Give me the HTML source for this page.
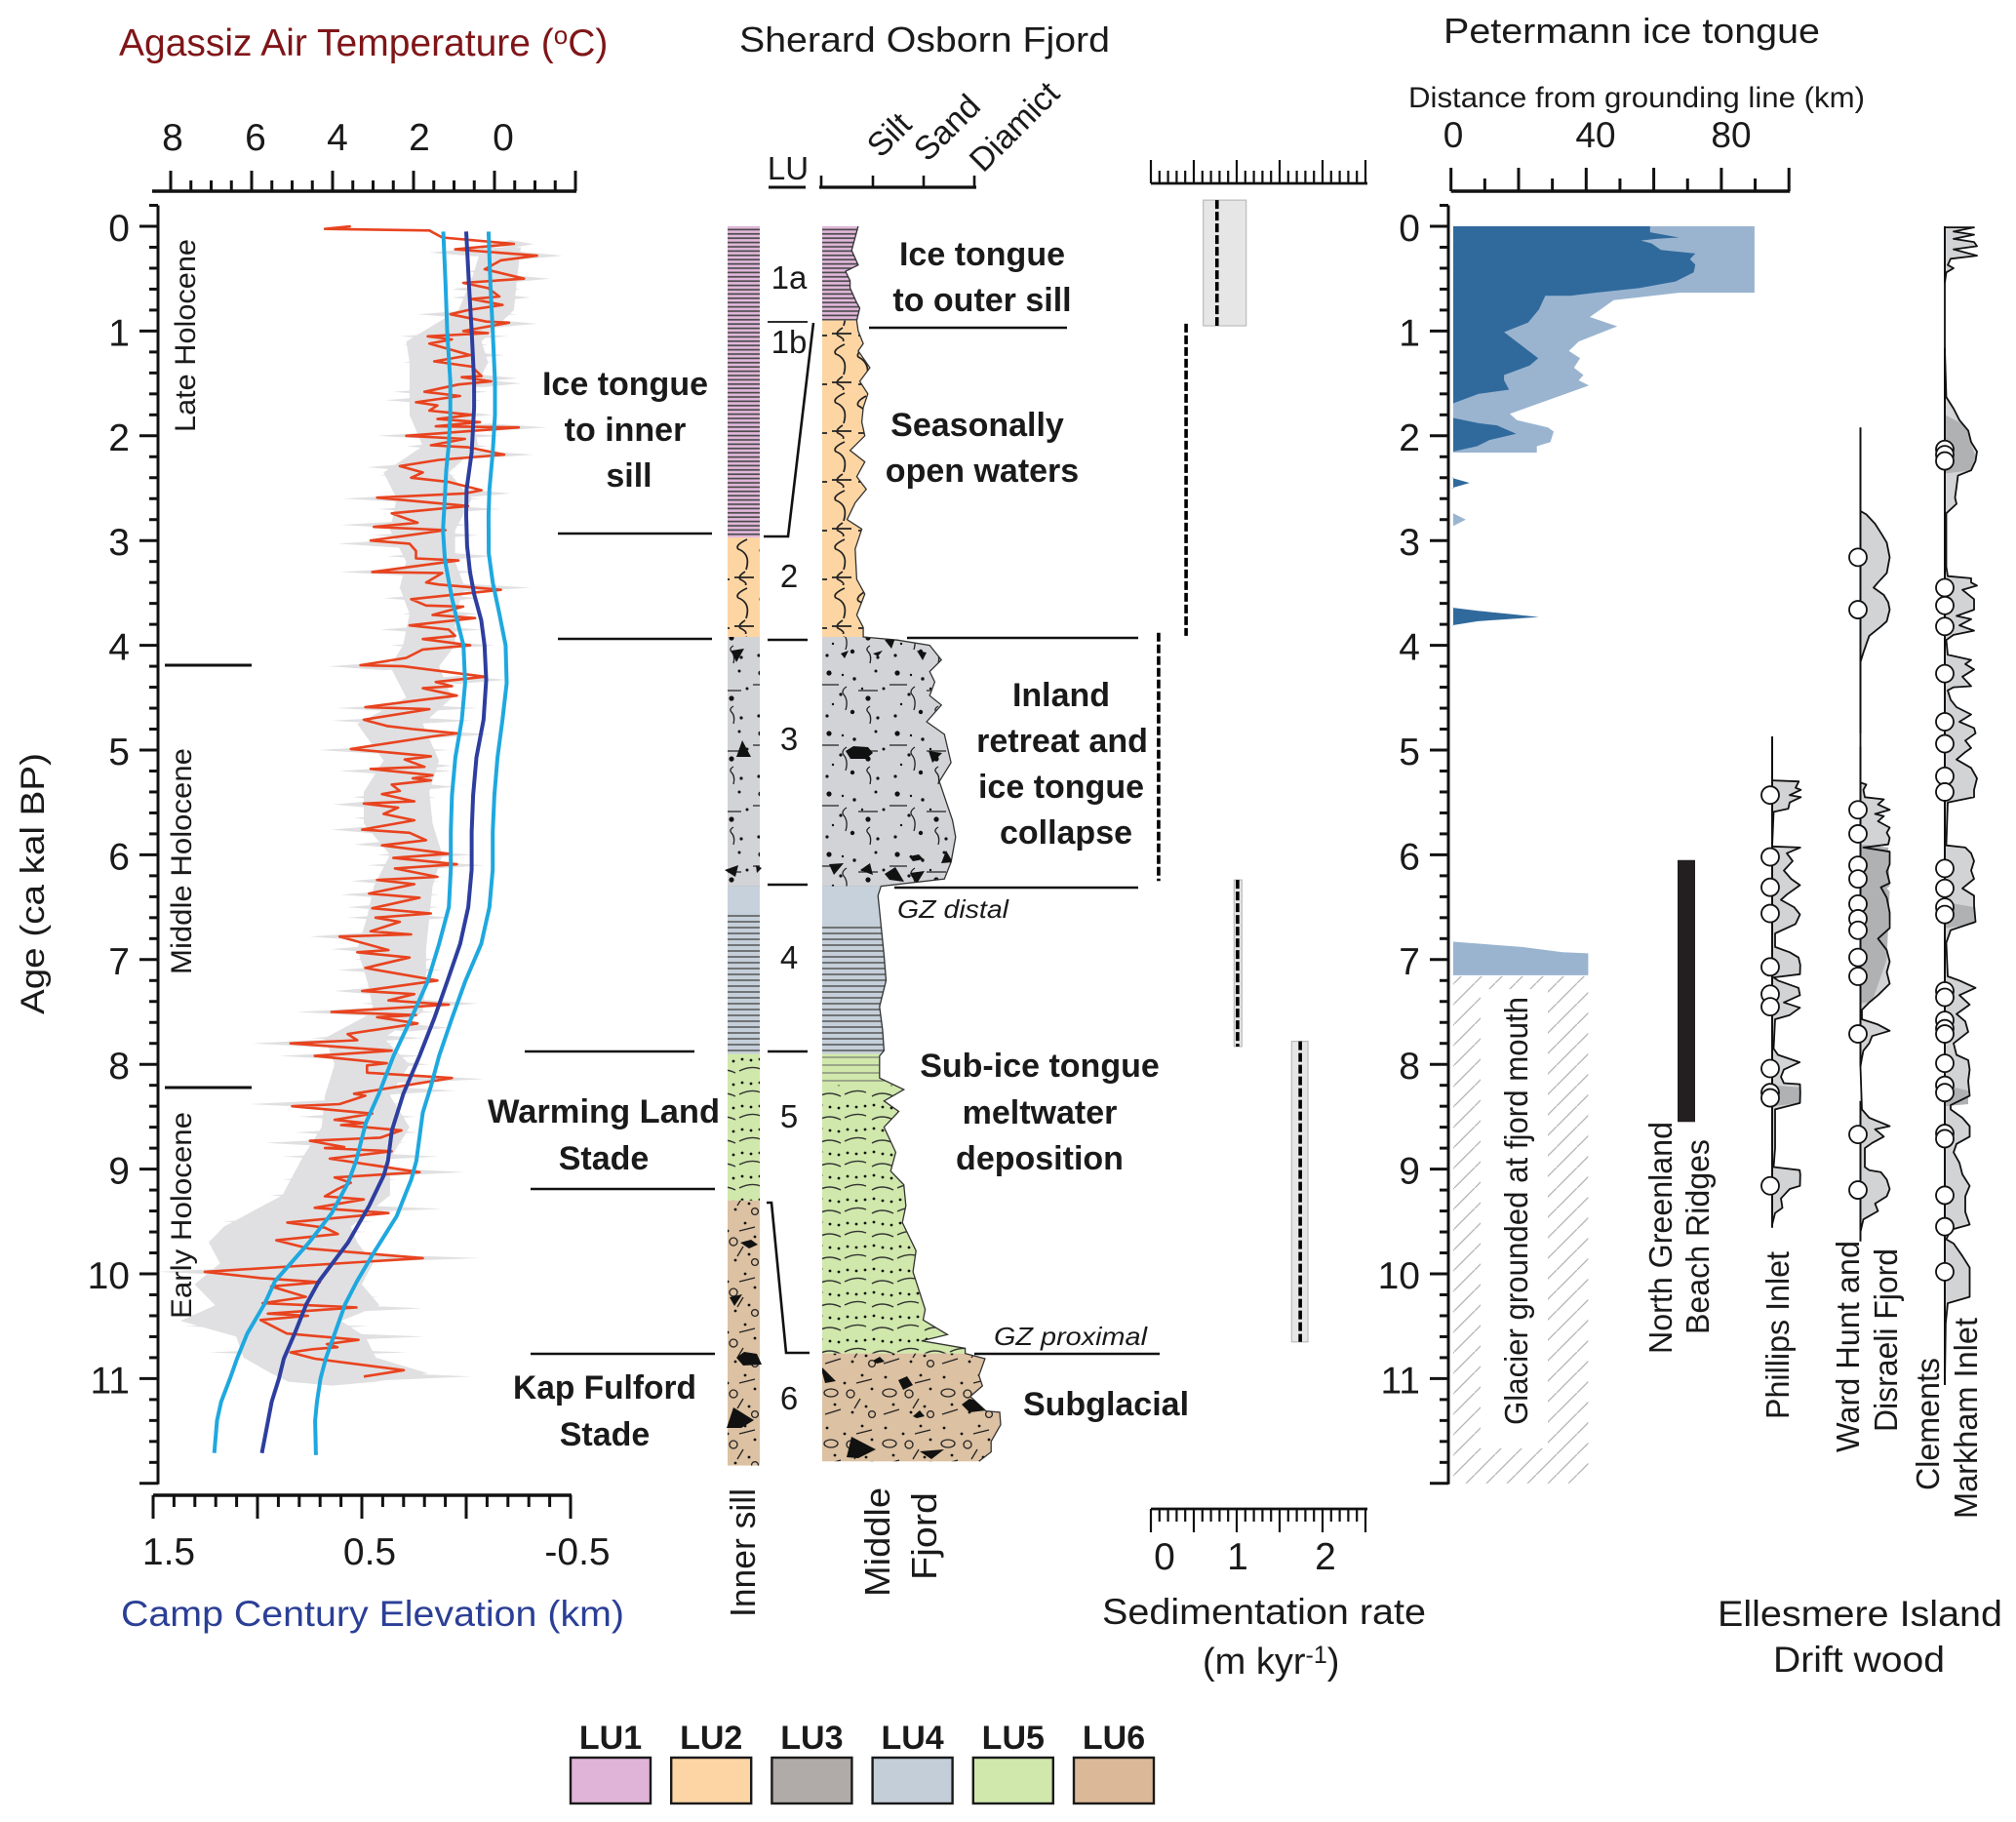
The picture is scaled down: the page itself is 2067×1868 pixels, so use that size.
<!DOCTYPE html>
<html lang="en">
<head>
<meta charset="utf-8">
<title>Holocene proxy records</title>
<style>
html,body{margin:0;padding:0;background:#fff}
svg{display:block}
text{font-family:"Liberation Sans",sans-serif;fill:#1a1a1a}
.b{font-weight:bold;font-size:34px;text-anchor:middle}
.v{font-size:33px}
</style>
</head>
<body>
<svg id="chart" xmlns="http://www.w3.org/2000/svg" width="2067" height="1868" viewBox="0 0 2067 1868">
<defs>
<pattern id="pLU1" patternUnits="userSpaceOnUse" width="40" height="4.4"><rect width="40" height="4.4" fill="#e3b8dc"/><line x1="0" x2="40" y1="2.2" y2="2.2" stroke="#4a4a4a" stroke-width="1.7"/></pattern>
<pattern id="pLU2" patternUnits="userSpaceOnUse" width="50" height="50"><rect width="50" height="50" fill="#fdd5a3"/><path d="M16 3q-13 6-9 10q13 5 8 21M38 6q-11 6-8 10q12 6 9 20M3 42h20M30 44h18M14 36q-8 5-5 8q8 4 5 6" fill="none" stroke="#222" stroke-width="1.7"/></pattern>
<pattern id="pLU3" patternUnits="userSpaceOnUse" width="70" height="62"><rect width="70" height="62" fill="#d2d3d7"/><g fill="#111"><circle cx="10" cy="8" r="2.6"/><circle cx="36" cy="14" r="1.7"/><circle cx="58" cy="6" r="1.5"/><circle cx="22" cy="30" r="1.6"/><circle cx="50" cy="34" r="2.6"/><circle cx="66" cy="24" r="1.5"/><circle cx="8" cy="52" r="1.6"/><circle cx="34" cy="48" r="2.2"/><circle cx="60" cy="54" r="1.6"/><circle cx="24" cy="10" r="1.2"/><circle cx="44" cy="24" r="1.2"/><circle cx="14" cy="40" r="1.2"/></g><path d="M28 22q-6 4-3 8q5 6 2 16M52 42q-5 3-2 6q4 4 2 12M2 20h18M40 26h20" fill="none" stroke="#222" stroke-width="1.3"/></pattern>
<pattern id="pLU4" patternUnits="userSpaceOnUse" width="60" height="6"><rect width="60" height="6" fill="#c5cfd9"/><line x1="0" x2="60" y1="3" y2="3" stroke="#555" stroke-width="1.5"/></pattern>
<pattern id="pLU5" patternUnits="userSpaceOnUse" width="54" height="24"><rect width="54" height="24" fill="#d0e8ab"/><path d="M2 18q12-6 22-2M30 20q10-6 22 0" fill="none" stroke="#333" stroke-width="1.4"/><g fill="#111"><circle cx="5" cy="6" r="1.4"/><circle cx="14" cy="7" r="1.4"/><circle cx="23" cy="6" r="1.4"/><circle cx="32" cy="5" r="1.4"/><circle cx="41" cy="7" r="1.4"/><circle cx="50" cy="8" r="1.4"/></g></pattern>
<pattern id="pLU5b" patternUnits="userSpaceOnUse" width="60" height="8"><rect width="60" height="8" fill="#d0e8ab"/><line x1="0" x2="60" y1="4" y2="4" stroke="#666" stroke-width="1"/></pattern>
<pattern id="pLU6" patternUnits="userSpaceOnUse" width="60" height="52"><rect width="60" height="52" fill="#dcc1a2"/><g fill="#111"><circle cx="8" cy="8" r="1.4"/><circle cx="26" cy="14" r="1.4"/><circle cx="44" cy="6" r="1.4"/><circle cx="54" cy="20" r="1.4"/><circle cx="16" cy="36" r="1.4"/><circle cx="34" cy="44" r="1.4"/><circle cx="48" cy="38" r="1.4"/></g><g fill="none" stroke="#222" stroke-width="1.3"><circle cx="32" cy="25" r="4"/><circle cx="54" cy="46" r="3.4"/><ellipse cx="12" cy="24" rx="7" ry="4"/><path d="M38 14l16-4M6 46l16-5M42 30l-6 10"/></g></pattern>
<pattern id="pHatch" patternUnits="userSpaceOnUse" width="21" height="21"><line x1="-2" y1="23" x2="23" y2="-2" stroke="#b4b4b4" stroke-width="1.3"/></pattern>
<clipPath id="clipMiddle"><path id="clipMiddlePath" d=""/></clipPath>
</defs>

<!-- Titles -->
<text x="122" y="57" font-size="39" style="fill:#7f1518">Agassiz Air Temperature (<tspan font-size="26" dy="-12" style="fill:#7f1518">o</tspan><tspan dy="12" style="fill:#7f1518">C)</tspan></text>
<text x="758" y="53" font-size="36" textLength="380" lengthAdjust="spacingAndGlyphs">Sherard Osborn Fjord</text>
<text x="1480" y="44" font-size="36" textLength="386" lengthAdjust="spacingAndGlyphs">Petermann ice tongue</text>
<text x="1444" y="110" font-size="30" textLength="468" lengthAdjust="spacingAndGlyphs">Distance from grounding line (km)</text>
<g font-size="37" text-anchor="middle"><text x="1490" y="151">0</text><text x="1636" y="151">40</text><text x="1775" y="151">80</text></g>
<g font-size="39" text-anchor="middle"><text x="177" y="154">8</text><text x="262" y="154">6</text><text x="346" y="154">4</text><text x="430" y="154">2</text><text x="516" y="154">0</text></g>
<g font-size="39" text-anchor="middle"><text x="173" y="1604">1.5</text><text x="379" y="1604">0.5</text><text x="592" y="1604">-0.5</text></g>
<text x="124" y="1667" font-size="37" textLength="516" lengthAdjust="spacingAndGlyphs" style="fill:#2b3f96">Camp Century Elevation (km)</text>
<text transform="translate(45,1040) rotate(-90)" font-size="34" textLength="268" lengthAdjust="spacingAndGlyphs">Age (ca kal BP)</text>

<!-- Stade annotations -->
<g>
<text class="b" x="641" y="405">Ice tongue</text><text class="b" x="641" y="452">to inner</text><text class="b" x="645" y="499">sill</text>
<text class="b" x="619" y="1151" textLength="238" lengthAdjust="spacingAndGlyphs">Warming Land</text><text class="b" x="619" y="1199">Stade</text>
<text class="b" x="620" y="1434" textLength="188" lengthAdjust="spacingAndGlyphs">Kap Fulford</text><text class="b" x="620" y="1482">Stade</text>
</g>
<g stroke="#111" stroke-width="2.4">
<line x1="572" x2="730" y1="547" y2="547"/><line x1="572" x2="730" y1="655" y2="655"/><line x1="538" x2="712" y1="1078" y2="1078"/><line x1="544" x2="733" y1="1219" y2="1219"/><line x1="544" x2="733" y1="1388" y2="1388"/>
</g>

<!-- chart layers -->
<g id="leftPanel"></g>
<text transform="translate(200,443) rotate(-90)" font-size="30" textLength="198" lengthAdjust="spacingAndGlyphs">Late Holocene</text>
<text transform="translate(196,999) rotate(-90)" font-size="30" textLength="232" lengthAdjust="spacingAndGlyphs">Middle Holocene</text>
<text transform="translate(196,1352) rotate(-90)" font-size="30" textLength="212" lengthAdjust="spacingAndGlyphs">Early Holocene</text>
<line x1="169" x2="258" y1="682" y2="682" stroke="#111" stroke-width="3"/>
<line x1="169" x2="258" y1="1115" y2="1115" stroke="#111" stroke-width="3"/>
<g id="lith"></g>

<!-- clasts -->
<g fill="#111">
<path clip-path="url(#clipMiddle)" d="M867 770L875 765L890 766L895 772L888 778L872 778ZM952 770L966 772L956 782ZM850 886L865 885L855 897ZM882 892L892 885L895 897ZM907 896L918 889L927 904L912 902ZM933 895L948 893L940 906ZM932 878L942 876L947 881L936 883ZM965 885L970 872L977 884ZM907 656L918 654L914 665ZM940 667L950 669L946 677ZM895 670L905 667L900 673ZM862 670L870 667L866 675ZM841 1400L857 1416L846 1418ZM921 1415L930 1411L936 1420L926 1425ZM986 1440L994 1434L1008 1438L1011 1446L994 1448ZM873 1473L898 1486L880 1495L868 1494ZM943 1488L968 1486L955 1496ZM895 1395L902 1391L907 1396L899 1398ZM936 1452L943 1446L948 1452L940 1454Z"/>
<path d="M750 667L763 665L755 679ZM755 776L761 759L770 776ZM743 892L757 887L754 899ZM775 887L781 890L776 895ZM755 1392L763 1386L776 1388L781 1399L762 1400ZM745 1464L752 1443L773 1456L760 1464ZM748 1330L761 1327L753 1339ZM759 1274L770 1271L777 1276L768 1280Z"/>
</g>

<!-- Lith labels -->
<g font-size="33" text-anchor="middle">
<text x="808" y="184">LU</text>
<text x="809" y="296">1a</text><text x="809" y="362">1b</text><text x="809" y="602">2</text><text x="809" y="769">3</text><text x="809" y="993">4</text><text x="809" y="1156">5</text><text x="809" y="1445">6</text>
</g>
<g stroke="#111" stroke-width="2.4" fill="none">
<line x1="788" x2="826" y1="192" y2="192" stroke-width="3"/>
<line x1="787" x2="828" y1="330" y2="330" stroke-width="1.8"/>
<path d="M834 331L808 550H783" stroke-width="2.6"/>
<line x1="787" x2="828" y1="656" y2="656"/>
<line x1="787" x2="828" y1="907" y2="907"/>
<line x1="787" x2="828" y1="1078" y2="1078"/>
<path d="M786 1233H791L806 1387H830" stroke-width="2.6"/>
<line x1="891" x2="1094" y1="336" y2="336"/>
<line x1="930" x2="1167" y1="654" y2="654"/>
<line x1="917" x2="1167" y1="910" y2="910"/>
<line x1="999" x2="1189" y1="1388" y2="1388"/>
</g>
<g font-size="34">
<text transform="translate(903,163) rotate(-45)">Silt</text>
<text transform="translate(951,167) rotate(-45)">Sand</text>
<text transform="translate(1008,178) rotate(-45)">Diamict</text>
</g>
<g>
<text class="b" x="1007" y="272">Ice tongue</text><text class="b" x="1007" y="319">to outer sill</text>
<text class="b" x="1002" y="447">Seasonally</text><text class="b" x="1007" y="494">open waters</text>
<text class="b" x="1088" y="724">Inland</text><text class="b" x="1089" y="771">retreat and</text><text class="b" x="1088" y="818">ice tongue</text><text class="b" x="1093" y="865">collapse</text>
<text class="b" x="1066" y="1104">Sub-ice tongue</text><text class="b" x="1066" y="1152">meltwater</text><text class="b" x="1066" y="1199">deposition</text>
<text class="b" x="1134" y="1451">Subglacial</text>
</g>
<text x="920" y="941" font-size="26" font-style="italic" textLength="114" lengthAdjust="spacingAndGlyphs">GZ distal</text>
<text x="1019" y="1379" font-size="26" font-style="italic" textLength="157" lengthAdjust="spacingAndGlyphs">GZ proximal</text>
<text transform="translate(774,1658) rotate(-90)" font-size="36" textLength="132" lengthAdjust="spacingAndGlyphs">Inner sill</text>
<text transform="translate(912,1637) rotate(-90)" font-size="36" textLength="112" lengthAdjust="spacingAndGlyphs">Middle</text>
<text transform="translate(960,1620) rotate(-90)" font-size="36" textLength="90" lengthAdjust="spacingAndGlyphs">Fjord</text>

<!-- Sedimentation labels -->
<g font-size="39" text-anchor="middle"><text x="1194" y="1609">0</text><text x="1269" y="1609">1</text><text x="1359" y="1609">2</text></g>
<text x="1130" y="1665" font-size="37" textLength="332" lengthAdjust="spacingAndGlyphs">Sedimentation rate</text>
<text x="1233" y="1716" font-size="38">(m kyr<tspan font-size="25" dy="-11">-1</tspan><tspan dy="11">)</tspan></text>
<g id="sedPanel"></g>

<g id="rightPanel"></g>
<g id="driftPanel"></g>

<!-- Right vertical labels -->
<text class="v" transform="translate(1566,1461) rotate(-90)" textLength="439" lengthAdjust="spacingAndGlyphs">Glacier grounded at fjord mouth</text>
<text class="v" transform="translate(1714,1388) rotate(-90)" textLength="238" lengthAdjust="spacingAndGlyphs">North Greenland</text>
<text class="v" transform="translate(1752,1368) rotate(-90)" textLength="200" lengthAdjust="spacingAndGlyphs">Beach Ridges</text>
<text class="v" transform="translate(1834,1455) rotate(-90)" textLength="172" lengthAdjust="spacingAndGlyphs">Phillips Inlet</text>
<text class="v" transform="translate(1906,1489) rotate(-90)" textLength="217" lengthAdjust="spacingAndGlyphs">Ward Hunt and</text>
<text class="v" transform="translate(1945,1468) rotate(-90)" textLength="188" lengthAdjust="spacingAndGlyphs">Disraeli Fjord</text>
<text class="v" transform="translate(1988,1528) rotate(-90)" textLength="136" lengthAdjust="spacingAndGlyphs">Clements</text>
<text class="v" transform="translate(2027,1557) rotate(-90)" textLength="206" lengthAdjust="spacingAndGlyphs">Markham Inlet</text>
<text x="1761" y="1667" font-size="37" textLength="292" lengthAdjust="spacingAndGlyphs">Ellesmere Island</text>
<text x="1818" y="1714" font-size="37" textLength="176" lengthAdjust="spacingAndGlyphs">Drift wood</text>

<g id="legend"></g>

<script>
// ---------- Temperature (Agassiz) ----------
const tempAges = [
0,.025,.04,.107,.168,.22,.28,.325,.41,.5,
.54,.59,.67,.695,.75,.8,.84,.91,.92,1.0,
1.02,1.05,1.08,1.12,1.23,1.29,1.34,1.43,1.44,1.48,
1.51,1.58,1.62,1.68,1.71,1.76,1.8,1.84,1.87,1.91,
1.92,2.0,2.03,2.09,2.11,2.18,2.23,2.29,2.35,2.4,
2.44,2.52,2.55,2.59,2.67,2.71,2.74,2.83,2.87,2.9,
3.0,3.03,3.1,3.17,3.19,3.3,3.31,3.4,3.42,3.47,
3.56,3.62,3.63,3.71,3.74,3.81,3.85,3.91,3.94,4.0,
4.04,4.12,4.19,4.2,4.3,4.35,4.39,4.41,4.48,4.52,
4.59,4.61,4.71,4.77,4.8,4.84,4.87,4.99,5.06,5.09,
5.16,5.18,5.24,5.27,5.29,5.33,5.39,5.42,5.49,5.51,
5.55,5.61,5.67,5.76,5.79,5.86,5.91,5.99,6.03,6.09,
6.13,6.21,6.24,6.28,6.37,6.41,6.51,6.56,6.6,6.64,
6.73,6.76,6.78,6.91,6.93,6.98,7.08,7.2,7.3,7.33,
7.39,7.43,7.5,7.53,7.55,7.61,7.71,7.77,7.8,7.87,
7.92,7.99,8.01,8.08,8.13,8.28,8.3,8.38,8.4,8.47,
8.53,8.56,8.58,8.63,8.7,8.73,8.79,8.8,8.83,8.9,
9.03,9.08,9.13,9.19,9.26,9.29,9.37,9.42,9.51,9.56,
9.62,9.68,9.76,9.85,9.98,10.04,10.08,10.12,10.22,10.28,
10.32,10.38,10.4,10.44,10.57,10.63,10.67,10.7,10.72,10.75,
10.81,10.92,10.98];
const tempValues = [
3.55,4.19,1.61,1.29,-.48,.97,-1.05,-.16,.24,-.73,
.77,.16,-.12,.56,-.2,.65,1.09,.2,-.36,.77,
.16,1.65,1.05,1.61,.6,1.49,.56,.32,.81,.08,
.89,1.73,.85,1.94,1.41,1.61,.56,1.41,.36,1.45,
-.6,2.18,.73,1.57,.65,-.24,1.37,2.34,1.77,2.06,
1.13,.32,.73,2.9,.65,1.73,2.54,1.9,2.98,1.21,
3.06,2.1,1.94,1.94,.89,3.02,1.29,1.69,1.37,-.16,
2.06,1.69,.77,1.53,.48,2.1,1.13,.97,1.77,.6,
1.77,2.18,3.31,2.26,.24,1.45,1.05,1.77,.93,1.77,
3.19,1.61,3.23,2.66,2.02,.93,1.53,3.55,1.57,2.22,
1.73,3.06,1.53,2.02,1.57,2.54,2.34,2.78,1.98,3.23,
2.38,2.74,1.98,3.27,2.1,1.69,2.78,1.13,2.5,.93,
2.46,1.41,2.9,1.98,3.1,1.85,3.02,1.57,2.94,2.34,
3.06,2.06,3.83,2.62,3.39,2.1,3.19,1.41,3.27,1.98,
2.62,1.13,4.03,1.94,2.9,1.9,3.63,3.39,5.04,2.54,
4.44,2.66,3.15,3.15,1.05,3.47,3.19,3.83,5.0,3.02,
3.95,3.23,3.79,2.3,2.82,4.56,3.71,4.19,2.54,4.07,
1.85,3.95,3.55,3.87,4.19,3.23,4.44,2.62,5.12,4.19,
3.87,5.39,4.57,1.77,7.16,5.78,4.31,5.52,4.66,5.73,
3.41,5.6,4.61,5.78,5.13,3.36,4.14,3.88,4.5,5.04,
4.44,2.24,3.23];
// Main body of the uncertainty envelope
const bandBodyAges = [.2,.5,.8,1.1,1.3,1.6,1.8,2.1,2.35,2.6,2.9,3.2,3.45,3.7,4.0,4.2,4.5,4.75,5.1,5.4,5.7,6.0,6.3,6.6,6.9,7.2,7.5,7.75,8.0,8.3,8.6,8.9,9.25,9.55,9.7,9.9,10.1,10.3,10.45,10.6,10.8,10.95,11.03];
const bandBodyHigh = [.32,.56,.89,2.18,2.1,2.1,2.1,1.77,2.74,2.42,2.58,2.18,2.34,2.1,2.26,2.58,2.18,3.39,2.74,3.23,3.23,2.58,2.98,3.15,3.39,3.15,2.98,4.19,3.95,4.19,4.27,4.76,5.24,6.69,7.06,6.78,7.41,6.9,7.76,6.38,6.2,5.52,5.09];
const bandBodyLow = [-.65,-.56,-.48,.32,.16,.56,.56,.4,1.13,.56,.97,.97,.73,.97,.97,1.37,1.05,1.77,1.37,1.61,1.53,1.29,1.53,1.61,1.69,1.69,1.77,2.74,2.1,2.58,2.1,2.58,2.58,3.55,3.39,3.0,3.28,2.84,3.79,3.19,2.93,1.64,2.93];
// Thin spikes of the envelope
const bandAges = [
.17,.25,.28,.43,.5,.6,.68,.84,.93,1.05,
1.13,1.23,1.3,1.45,1.5,1.58,1.66,1.8,1.92,2.0,
2.1,2.18,2.3,2.38,2.55,2.6,2.7,2.85,2.95,3.03,
3.15,3.3,3.45,3.55,3.7,3.85,4.0,4.2,4.33,4.6,
4.72,4.85,5.0,5.15,5.2,5.35,5.45,5.52,5.65,5.76,
5.9,6.0,6.1,6.25,6.38,6.5,6.6,6.78,6.9,7.0,
7.1,7.3,7.42,7.5,7.65,7.75,7.8,7.92,8.0,8.14,
8.25,8.38,8.5,8.65,8.75,8.88,9.03,9.1,9.25,9.38,
9.5,9.6,9.68,9.8,9.85,9.98,10.12,10.22,10.3,10.33,
10.4,10.5,10.6,10.75,10.85,10.98,11.03];
const bandHigh = [
.16,1.61,.4,.65,.73,1.05,1.05,1.9,1.13,2.34,
2.26,1.77,2.26,1.45,1.29,2.5,2.7,2.1,1.53,2.9,
2.18,1.77,3.15,2.82,1.77,3.75,2.9,3.79,3.0,3.87,
2.66,3.83,2.42,2.74,2.26,2.82,2.58,4.11,2.1,3.9,
4.03,3.15,4.35,2.9,3.83,3.06,3.5,3.99,3.47,4.03,
3.47,2.9,3.15,3.55,3.79,3.63,3.63,4.56,4.03,3.47,
3.87,3.95,3.31,4.88,3.15,4.52,5.97,5.32,4.03,3.95,
4.19,6.05,4.84,4.92,5.65,5.24,4.6,5.24,5.56,5.89,
6.73,6.65,7.14,6.61,5.95,8.32,7.41,6.98,6.47,5.95,
7.8,7.67,6.38,7.07,5.69,5.09,5.09];
const bandLow = [
-.97,-.65,-1.69,-.56,-1.37,-.65,-.89,-.56,-1.05,-.32,
.16,-.24,.08,-.56,-.65,.16,.32,.04,-1.29,-.16,
.16,-.97,.89,.97,-.4,.32,-.16,.56,.4,.97,
0,.4,-.89,.32,.4,.32,0,1.29,-.32,.4,
.56,.08,1.13,1.05,1.05,.97,1.45,1.77,1.49,1.77,
1.45,.56,.24,1.37,1.37,1.37,1.05,1.85,1.77,1.45,
1.29,1.69,.4,1.45,1.13,1.77,2.42,1.77,1.61,.24,
.97,2.18,1.94,1.85,2.18,1.37,.73,2.42,2.58,1.29,
3.0,3.15,3.39,3.0,.34,4.22,3.79,2.84,2.93,1.77,
3.79,3.1,1.73,2.16,2.5,.56,2.93];

// ---------- Camp Century elevation ----------
const elevMeanAges = [.05,.55,1.0,1.48,1.73,2.16,2.51,2.76,3.05,3.3,3.51,3.76,4.0,4.33,4.71,5.07,5.43,5.78,6.14,6.5,6.85,7.21,7.56,7.92,8.28,8.63,8.92,9.06,9.35,9.7,10.07,10.29,10.57,10.81,11.0,11.22,11.4,11.71];
const elevMean = [0,-.013,-.026,-.038,-.038,-.026,-.002,0,-.004,-.018,-.038,-.072,-.088,-.096,-.083,-.049,-.033,-.026,-.026,-.01,.029,.091,.153,.224,.301,.356,.375,.395,.465,.566,.705,.766,.822,.874,.897,.932,.949,.979];
const elevUpperAges = [.05,.55,1.0,1.48,1.8,2.08,2.33,2.69,2.9,3.19,3.55,3.76,4.0,4.36,4.71,5.07,5.43,5.78,6.14,6.5,6.85,7.21,7.56,7.92,8.28,8.56,8.92,9.13,9.42,9.7,10.07,10.29,10.57,10.81,11.0,11.22,11.4,11.71];
const elevUpper = [.11,.099,.091,.076,.076,.083,.096,.105,.111,.102,.068,.044,.013,.005,.021,.052,.068,.074,.074,.083,.13,.185,.263,.348,.418,.481,.527,.566,.644,.753,.916,.967,1.049,1.098,1.132,1.174,1.194,1.207];
const elevLowerAges = [.05,.55,1.0,1.48,1.8,2.16,2.51,2.76,3.12,3.4,3.69,4.0,4.36,4.71,5.07,5.43,5.78,6.14,6.5,6.85,7.21,7.56,7.92,8.21,8.46,8.92,9.1,9.45,9.79,10.07,10.29,10.57,10.81,11.0,11.22,11.4,11.73];
const elevLower = [-.107,-.116,-.127,-.138,-.138,-.127,-.111,-.107,-.108,-.127,-.158,-.189,-.194,-.174,-.15,-.135,-.127,-.127,-.111,-.072,.005,.068,.13,.169,.208,.239,.263,.333,.44,.523,.58,.63,.673,.698,.715,.724,.72];

// ---------- Grain size, middle fjord ----------
const grainAges = [0,.23,.37,.43,.52,.59,.73,.78,.9,1.0,1.12,1.19,1.35,1.48,1.6,1.73,1.87,2.0,2.14,2.25,2.39,2.51,2.64,2.8,2.89,3.08,3.37,3.51,3.71,3.83,3.92,3.95,4.0,4.14,4.25,4.35,4.48,4.57,4.73,4.85,5.12,5.3,5.67,5.83,6.07,6.23,6.3,6.39,6.67,6.96,7.2,7.45,7.67,7.87,7.92,8.13,8.24,8.35,8.45,8.6,8.84,9.02,9.15,9.35,9.51,9.78,9.98,10.34,10.44,10.58,10.64,10.71,10.76,10.81,10.97,11.07,11.17,11.31,11.32,11.44,11.6,11.7,11.79];
const grainSizes = [.71,.58,.71,.46,.55,.55,.68,.74,.68,.71,.81,.71,.94,.74,.9,.81,.78,.84,.55,.84,.68,.87,.65,.49,.78,.65,.68,.84,.68,.81,.81,1.48,2.12,2.35,2.12,2.22,2.12,2.35,2.06,2.41,2.54,2.31,2.57,2.63,2.54,2.41,1.16,1.1,1.16,1.22,1.26,1.13,1.19,1.22,1.13,1.13,1.61,1.22,1.51,1.22,1.45,1.35,1.61,1.65,1.58,1.85,1.79,2.03,1.99,2.47,1.96,2.82,2.82,3.21,3.09,3.16,2.92,3.23,3.5,3.52,3.33,3.33,3.09];
const unitNames = ['LU1','LU2','LU3','LU4','LU5','LU6'];
const innerSillBounds = [0,2.97,3.92,6.3,7.9,9.3,11.83];
const middleFjordBounds = [0,.9,3.92,6.3,7.9,10.76,11.8];
const legendColors = ['#dfb4d8','#fdd4a3','#b0aba9','#c3ced8','#d0e8ab','#dbb998'];

// ---------- Sedimentation rate ----------
const sedStartAges = [-.25,.93,3.88,6.24,7.78];
const sedEndAges = [.95,3.91,6.25,7.83,10.65];
const sedRates = [.77,.41,.09,1.01,1.74];
const sedLowRates = [.61,.41,.09,.97,1.64];
const sedHighRates = [1.11,.41,.09,1.06,1.83];

// ---------- Petermann ice tongue ----------
const lightAges = [0,.634,.634,.706,.866,.955,1.1,1.19,1.26,1.35,1.42,1.47,1.52,1.79,1.85,1.92,1.96,2.06,2.1,2.16];
const lightKm = [89.8,89.8,67.5,48.1,41.1,49.2,37.8,34.9,38.2,36.4,39.2,37.8,40.8,17.4,19.5,28.7,30.4,29.4,25.4,25.4];
const darkAges = [0,.057,.107,.118,.136,.164,.225,.26,.314,.367,.44,.527,.59,.634,.663,.663,.795,.92,1.01,1.26,1.33,1.42,1.47,1.56,1.6,1.69];
const darkKm = [58.9,58.9,67.5,61,56.2,59.4,62.1,72.3,70.7,72.3,71.8,66.4,55.6,42.7,35.2,27.9,26,22.8,15.7,25.8,23.3,15.7,15.7,17.2,8.2,.65];
const dark2Ages = [1.83,1.88,1.9,1.98,2.04,2.1,2.15];
const dark2Km = [.65,8.2,13.6,19.3,11.4,7.7,.65];
const dark3Ages = [2.4,2.45,2.5];
const dark3Km = [.1,5.5,.1];
const light2Ages = [2.74,2.8,2.86];
const light2Km = [.65,4.4,.65];
const dark4Ages = [3.64,3.67,3.7,3.73,3.77,3.81];
const dark4Km = [.1,8,17,26,8,.1];
const glacierAges = [6.83,6.88,6.93,6.94];
const glacierKm = [.65,21,33,40.6];
const glacierRightKm = 40.6;
const glacierBottomAge = 7.15;
const beachStartAge = 6.05;
const beachEndAge = 8.55;

// ---------- Driftwood ----------
const phillipsAges = [5.29,5.3,5.36,5.38,5.43,5.45,5.5,5.56,5.59,5.92,5.93,5.985,6.06,6.15,6.23,6.29,6.38,6.43,6.5,6.57,6.66,6.75,6.88,6.93,6.98,7.05,7.14,7.17,7.2,7.27,7.34,7.41,7.46,7.53,7.57,7.85,7.91,7.98,8.05,8.12,8.18,8.19,8.27,8.37,8.43,8.8,8.98,9.01,9.05,9.16,9.19,9.28,9.37,9.42,9.53];
const phillipsCounts = [0,9.1,8,9.8,6,9.8,6,5.5,.5,0,9.6,5,7,4,6.5,9.5,5,3,7.5,9.5,8,1,1,6,9,9.6,9.5,.5,2,9,9.5,4,9.5,6,1,.5,2,9.4,4,3,4,9.5,9.6,9.5,1,1,.5,9.4,9.6,9.5,6,3,3.5,1,0];
const phillipsOverlapAges = [8.2,8.22,8.37,8.4];
const phillipsOverlap = [0,9.5,9.5,0];
const phillipsDates = [5.43,6.02,6.31,6.56,7.07,7.33,7.45,8.04,8.27,8.32,9.16];
const phillipsSpanStart = [4.87];
const phillipsSpanEnd = [9.56];

const wardAges = [2.72,2.75,2.84,2.95,3.02,3.16,3.31,3.4,3.45,3.52,3.59,3.66,3.77,3.82,3.91,4.07,4.16,5.31,5.33,5.38,5.45,5.47,5.52,5.57,5.61,5.63,5.68,5.74,5.79,5.84,5.9,5.93,5.97,6.09,6.16,6.27,6.31,6.41,6.55,6.7,6.8,6.91,7.02,7.12,7.23,7.34,7.41,7.48,7.57,7.62,7.68,7.73,7.8,7.87,7.94,8.02,8.43,8.51,8.59,8.62,8.69,8.75,8.8,8.98,9.01,9.03,9.1,9.19,9.26,9.33,9.4,9.48,9.6];
const wardCounts = [.1,2,5,7.5,9,10,9,6,4.5,8,9.5,10,9,7,3,1,0,0,2,1,1.5,8,6,10,5,8,6,10,9,10,9.5,1,10,10,9,10,7,9,10,10,6,9,10,9,10,6,3,.5,.5,6,10,4,3,1,.5,0,.5,3,10,5,8,4,1.5,1.5,3,7,9,10,9,5,6,1,0];
const wardOverlapAges = [5.9,5.93,6.3,6.32,6.35,7.0,7.4,7.42];
const wardOverlap = [0,9.5,10,9,10,9,4,0];
const wardDates = [3.16,3.66,5.57,5.8,6.1,6.23,6.47,6.61,6.72,6.98,7.16,7.71,8.67,9.2];
const wardSpanStart = [1.92,4.97,8.35];
const wardSpanEnd = [4.84,8.02,9.69];

const clementsAges = [.01,.05,.08,.12,.15,.19,.22,.28,.31,.37,.4,.44,.54,1.17,1.63,1.74,1.85,1.95,2.06,2.15,2.24,2.33,2.38,2.49,2.59,2.65,2.74,3.25,3.34,3.36,3.4,3.43,3.47,3.56,3.66,3.72,3.75,3.81,3.86,3.9,3.95,4.09,4.14,4.18,4.23,4.3,4.39,4.4,4.43,4.52,4.59,4.66,4.73,4.79,4.84,4.91,4.98,5.02,5.09,5.17,5.27,5.38,5.45,5.5,5.91,5.93,5.985,6.06,6.15,6.23,6.32,6.39,6.48,6.64,6.72,6.84,7.16,7.2,7.27,7.34,7.43,7.52,7.59,7.69,7.8,7.91,7.96,8.05,8.16,8.3,8.39,8.43,8.51,8.59,8.69,8.76,8.84,8.94,9.05,9.16,9.26,9.41,9.53,9.58,9.67,9.71,9.83,9.94,10.08,10.22,10.28,10.47,11.06];
const clementsCounts = [10,3,10,3,10,11,3,11,2,1,3,.5,0,0,.5,3,5,8,9,11,10.5,9,4.5,4,3.5,4,.5,.5,1,9,9,11,6,10,10,4,9,5,10,3,.5,1,9,7,10,6,9,3,1,2,4,9,5,10,10.5,7,9,7,4,9,11,10,10,1,.5,7,9,10,9,10,6,10,10,10.5,2,.5,1,5,10.5,5,8.5,4,7,8,3,4,8,8.5,8,8.5,2,2,6,8.5,8.5,4,3,5,6,8.5,7,7,8.5,2,.5,3,6,8.5,8.5,8.5,1,.3,0];
const clementsOverlapAges = [1.8,1.9,2.2,2.33,2.36,6.45,6.5,6.66,6.7,8.2,8.25,8.38,8.4];
const clementsOverlap = [0,7,10.5,9,0,0,10,10,0,0,8,8,0];
const clementsDates = [2.13,2.18,2.24,3.45,3.62,3.82,4.27,4.73,4.94,5.25,5.4,6.13,6.32,6.5,6.57,7.3,7.36,7.58,7.66,7.71,7.99,8.2,8.27,8.66,8.71,9.25,9.55,9.98];
const clementsSpanStart = [0,1.16];
const clementsSpanEnd = [.54,11.06];

// ---------- Scales ----------
const NS = 'http://www.w3.org/2000/svg';
const yAge = a => 232 + 107.4 * a;
const xTemp = t => 507 - 41.5 * t;
const xElev = e => 157 + (1.5 - e) * 214;
const xSed = r => 1180 + 88 * r;
const xKm = k => 1487.7 + 3.465 * k;
const xGrain = g => 843 + 52 * g;
const AX = '#111';

function mk(tag, attrs, parent) {
  const n = document.createElementNS(NS, tag);
  for (const k in attrs) n.setAttribute(k, attrs[k]);
  parent.appendChild(n);
  return n;
}
function pts(xs, ys) { return xs.map((x, i) => x.toFixed(1) + ',' + ys[i].toFixed(1)).join(' '); }

const left = document.getElementById('leftPanel');
const lith = document.getElementById('lith');
const sed = document.getElementById('sedPanel');
const right = document.getElementById('rightPanel');
const drift = document.getElementById('driftPanel');
const legend = document.getElementById('legend');

// ---------- Horizontal axis helper ----------
function hAxis(parent, name, x0, x1, y, major, minor, dir, majLen, minLen, sw) {
  const g = mk('g', {stroke: AX, 'stroke-width': sw, fill: 'none'}, parent);
  
  
  mk('line', {x1: x0, x2: x1, y1: y, y2: y, 'stroke-width': sw + .6}, g);
  major.forEach(x => mk('line', {x1: x, x2: x, y1: y, y2: y + dir * majLen}, g));
  minor.forEach(x => mk('line', {x1: x, x2: x, y1: y, y2: y + dir * minLen}, g));
}

// ---------- Age axes ----------
function ageAxis(parent, name, x, maj, min, labelX) {
  const g = mk('g', {stroke: AX, 'stroke-width': 3, fill: 'none'}, parent);
  
  
  mk('line', {x1: x, x2: x, y1: yAge(-.2), y2: yAge(12) + 1}, g);
  for (let i = -1; i <= 60; i++) {
    const a = i / 5, isMaj = i % 5 === 0;
    mk('line', {x1: x, x2: x - (isMaj ? maj : min), y1: yAge(a), y2: yAge(a)}, g);
    if (isMaj && a <= 11) {
      const t = mk('text', {x: labelX, y: yAge(a) + 15, 'text-anchor': 'end', 'font-size': 39, stroke: 'none'}, g);
      t.textContent = String(a);
      
      
    }
  }
}
ageAxis(left, 'age-axis-left', 162, 19, 9, 133);
ageAxis(right, 'age-axis-right', 1485, 19, 9, 1456);

// Temperature axis
{
  const maj = [], min = [];
  for (let t = 8; t >= -2; t -= 2) maj.push(xTemp(t));
  for (let t = 7.5; t >= -1.5; t -= .5) if (t % 2 !== 0) min.push(xTemp(t));
  hAxis(left, 'temperature-axis', 156, xTemp(-2) + 1, 196, maj, min, -1, 21, 11, 3);
}
// Elevation axis
{
  const maj = [], min = [];
  for (let i = 0; i <= 4; i++) maj.push(xElev(1.5 - i * .5));
  for (let i = 0; i <= 20; i++) if (i % 5) min.push(xElev(1.5 - i * .1));
  hAxis(left, 'elevation-axis', 157, 586, 1533, maj, min, 1, 24, 12, 3);
}

// ---------- Grey band ----------
{
  const xs = bandBodyAges.map((a, i) => xTemp(bandBodyHigh[i])).concat(bandBodyAges.map((a, i) => xTemp(bandBodyLow[i])).reverse());
  const ys = bandBodyAges.map(yAge).concat(bandBodyAges.map(yAge).reverse());
  const n = mk('polygon', {points: pts(xs, ys), fill: '#e0e0e2', stroke: 'none'}, left);
  
  
  bandAges.forEach((a, i) => {
    const hi = xTemp(bandHigh[i]), lo = xTemp(bandLow[i]), y = yAge(a), mid = (hi + lo) / 2;
    const s = mk('polygon', {points: pts([hi, mid, lo, mid], [y, y - 4, y, y + 4]), fill: '#e0e0e2', stroke: 'none'}, left);
    
    
  });
}
// Temperature line
{
  const n = mk('polyline', {points: pts(tempValues.map(xTemp), tempAges.map(yAge)), fill: 'none', stroke: '#e8431f', 'stroke-width': 2.6, 'stroke-linejoin': 'round'}, left);
  
  
}
// Elevation curves
{
  const a = mk('polyline', {points: pts(elevUpper.map(xElev), elevUpperAges.map(yAge)), fill: 'none', stroke: '#1fa8df', 'stroke-width': 4}, left);
  
  
  const b = mk('polyline', {points: pts(elevLower.map(xElev), elevLowerAges.map(yAge)), fill: 'none', stroke: '#1fa8df', 'stroke-width': 4}, left);
  
  
  const c = mk('polyline', {points: pts(elevMean.map(xElev), elevMeanAges.map(yAge)), fill: 'none', stroke: '#2d3e9e', 'stroke-width': 4}, left);
  
  
}

// ---------- Lithology ----------
{
  const xs = grainSizes.map(xGrain), ys = grainAges.map(yAge);
  const d = 'M' + xGrain(0) + ' ' + ys[0] + ' L' + xs.map((x, i) => x.toFixed(1) + ' ' + ys[i].toFixed(1)).join(' L') + ' L' + xGrain(0) + ' ' + ys[ys.length - 1] + ' Z';
  document.getElementById('clipMiddlePath').setAttribute('d', d);
  const gM = mk('g', {'clip-path': 'url(#clipMiddle)'}, lith);
  
  
  unitNames.forEach((u, i) => {
    const y0 = yAge(middleFjordBounds[i]), y1 = yAge(middleFjordBounds[i + 1]);
    const r = mk('rect', {x: 843, y: y0, width: 200, height: y1 - y0, fill: 'url(#p' + u + ')'}, gM);
    
    
  });
  const pale = mk('rect', {x: 843, y: yAge(6.3), width: 200, height: yAge(6.65) - yAge(6.3), fill: '#c6d1db'}, gM);
  
  
  const lam = mk('rect', {x: 843, y: yAge(7.9), width: 200, height: yAge(8.2) - yAge(7.9), fill: 'url(#pLU5b)'}, gM);
  
  
  const edge = mk('path', {d: 'M' + xs.map((x, i) => x.toFixed(1) + ' ' + ys[i].toFixed(1)).join(' L'), fill: 'none', stroke: '#333', 'stroke-width': 1.3}, lith);
  
  

  const gI = mk('g', {}, lith);
  
  
  unitNames.forEach((u, i) => {
    const y0 = yAge(innerSillBounds[i]), y1 = yAge(innerSillBounds[i + 1]);
    const r = mk('rect', {x: 746, y: y0, width: 33, height: y1 - y0, fill: 'url(#p' + u + ')'}, gI);
    
    
  });
  const pale2 = mk('rect', {x: 746, y: yAge(6.3), width: 33, height: yAge(6.55) - yAge(6.3), fill: '#c6d1db'}, gI);
  
  

  hAxis(lith, 'grain-size-axis', 840, 1001, 192, [842, xGrain(1), xGrain(2), xGrain(3)], [], -1, 12, 0, 2.6);
}

// ---------- Sedimentation ----------
{
  const maj = [], min = [];
  for (let i = 0; i <= 25; i++) { if (i % 5 === 0) maj.push(xSed(i / 10)); else min.push(xSed(i / 10)); }
  hAxis(sed, 'sedimentation-axis-top', 1180, 1402, 188, maj, min, -1, 24, 13, 2.2);
  hAxis(sed, 'sedimentation-axis-bottom', 1180, 1402, 1547, maj, min, 1, 24, 13, 2.2);
  sedRates.forEach((r, i) => {
    const y0 = yAge(sedStartAges[i]), y1 = yAge(sedEndAges[i]);
    if (sedHighRates[i] > sedLowRates[i]) {
      const b = mk('rect', {x: xSed(sedLowRates[i]), y: y0, width: xSed(sedHighRates[i]) - xSed(sedLowRates[i]), height: y1 - y0, fill: '#e6e6e7', stroke: '#bbb', 'stroke-width': 1.2}, sed);
      
      
    }
    const l = mk('line', {x1: xSed(r), x2: xSed(r), y1: y0, y2: y1, stroke: '#000', 'stroke-width': 3.6, 'stroke-dasharray': '9 3'}, sed);
    
    
  });
}

// ---------- Petermann ----------
{
  const maj = [], min = [];
  for (let k = 0; k <= 100; k += 10) { if (k % 20 === 0) maj.push(xKm(k)); else min.push(xKm(k)); }
  hAxis(right, 'distance-axis', xKm(0), xKm(100) + 1, 196, maj, min, -1, 24, 13, 3);

  function area(ages, km, fill, name) {
    const xs = [xKm(.65)].concat(km.map(xKm), [xKm(.65)]);
    const ys = [yAge(ages[0])].concat(ages.map(yAge), [yAge(ages[ages.length - 1])]);
    const n = mk('polygon', {points: pts(xs, ys), fill: fill}, right);
    
    
  }
  const LIGHT = '#9ab4d0', DARK = '#306a9c';
  area(lightAges, lightKm, LIGHT, 'petermann-max-extent');
  area(darkAges, darkKm, DARK, 'petermann-min-extent');
  area(dark2Ages, dark2Km, DARK, 'petermann-min-extent-lens');
  area(dark3Ages, dark3Km, DARK, 'petermann-min-extent-small');
  area(light2Ages, light2Km, LIGHT, 'petermann-max-extent-small');
  area(dark4Ages, dark4Km, DARK, 'petermann-min-extent-early');

  const gx = [xKm(.65)].concat(glacierKm.map(xKm), [xKm(glacierRightKm), xKm(.65)]);
  const gy = [yAge(glacierAges[0])].concat(glacierAges.map(yAge), [yAge(glacierBottomAge), yAge(glacierBottomAge)]);
  const gl = mk('polygon', {points: pts(gx, gy), fill: LIGHT}, right);
  
  

  const hatch = mk('rect', {x: xKm(.65), y: yAge(glacierBottomAge) + 1, width: xKm(glacierRightKm) - xKm(.65), height: yAge(12) - yAge(glacierBottomAge) - 1, fill: 'url(#pHatch)'}, right);
  
  
  const gap = mk('rect', {x: 1518, y: 1014, width: 69, height: 471, fill: '#fff'}, right);
  
  

  const bar = mk('rect', {x: 1720, y: yAge(beachStartAge), width: 18, height: yAge(beachEndAge) - yAge(beachStartAge), fill: '#231f20'}, right);
  
  
}

// ---------- Driftwood ----------
function driftSeries(name, base, ages, counts, ovAges, ov, dates, sStart, sEnd, circX) {
  const g = mk('g', {}, drift);
  
  
  const xv = v => base + v * 3;
  const xs = [base].concat(counts.map(xv), [base]);
  const ys = [yAge(ages[0])].concat(ages.map(yAge), [yAge(ages[ages.length - 1])]);
  const ox = [base].concat(ov.map(xv), [base]);
  const oy = [yAge(ovAges[0])].concat(ovAges.map(yAge), [yAge(ovAges[ovAges.length - 1])]);
  const a = mk('polygon', {points: pts(xs, ys), fill: '#d2d3d5', stroke: 'none'}, g);
  
  
  const o = mk('polygon', {points: pts(ox, oy), fill: '#b0b1b3', stroke: 'none'}, g);
  
  
  const e = mk('polyline', {points: pts(xs, ys), fill: 'none', stroke: '#111', 'stroke-width': 1.8, 'stroke-linejoin': 'round'}, g);
  
  
  sStart.forEach((s, i) => {
    const l = mk('line', {x1: base, x2: base, y1: yAge(s), y2: yAge(sEnd[i]), stroke: '#111', 'stroke-width': 2}, g);
    
    
  });
  dates.forEach(d => {
    const c = mk('circle', {cx: circX, cy: yAge(d), r: 9, fill: '#fff', stroke: '#111', 'stroke-width': 1.8}, g);
    
    
  });
}
driftSeries('phillips-inlet-series', 1817, phillipsAges, phillipsCounts, phillipsOverlapAges, phillipsOverlap, phillipsDates, phillipsSpanStart, phillipsSpanEnd, 1815);
driftSeries('ward-hunt-series', 1907.5, wardAges, wardCounts, wardOverlapAges, wardOverlap, wardDates, wardSpanStart, wardSpanEnd, 1905);
driftSeries('clements-markham-series', 1994, clementsAges, clementsCounts, clementsOverlapAges, clementsOverlap, clementsDates, clementsSpanStart, clementsSpanEnd, 1994);

// ---------- Legend ----------
unitNames.forEach((u, i) => {
  const x = 585 + i * 103.2;
  const t = mk('text', {x: x + 41, y: 1793, 'text-anchor': 'middle', 'font-size': 34, 'font-weight': 'bold'}, legend);
  t.textContent = u;
  
  
  const r = mk('rect', {x: x, y: 1802, width: 82, height: 47, fill: legendColors[i], stroke: '#1a1a1a', 'stroke-width': 2.4}, legend);
  
  
});
</script>
</svg>
</body>
</html>
